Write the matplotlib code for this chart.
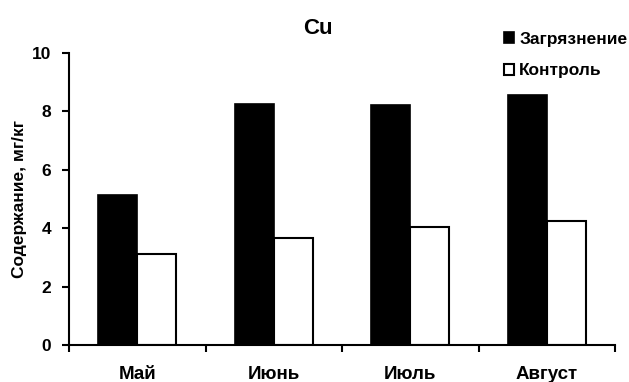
import numpy as np
import matplotlib
matplotlib.use('Agg')
import matplotlib.pyplot as plt

plt.rcParams['font.family'] = ['Liberation Sans', 'DejaVu Sans']
plt.rcParams['font.weight'] = 'bold'

months = ['Май', 'Июнь', 'Июль', 'Август']
pollution = [5.14, 8.24, 8.23, 8.55]
control = [3.11, 3.68, 4.05, 4.26]

fig = plt.figure(figsize=(6.29, 3.82), dpi=100)
ax = fig.add_axes([69/629, 1 - 345/382, (615 - 69)/629, (345 - 53)/382])

x = np.arange(len(months))
w = 1 / 3.5
ax.bar(x - w/2, pollution, w, color='black', edgecolor='black', linewidth=1.2, label='Загрязнение')
ax.bar(x + w/2, control, w, color='white', edgecolor='black', linewidth=1.5, label='Контроль')

ax.set_xlim(-0.5, len(months) - 0.5)
ax.set_ylim(0, 10)
ax.set_yticks([0, 2, 4, 6, 8, 10])
ax.set_xticks(np.arange(-0.5, len(months)), minor=False)
ax.set_xticklabels([])
ax.set_xticks(x, minor=True)
ax.set_xticklabels(months, minor=True, fontsize=13.5, fontweight='bold')
ax.tick_params(axis='x', which='minor', length=0, pad=15)
ax.tick_params(axis='x', which='major', length=5, width=1.5, direction='out')
ax.tick_params(axis='y', length=5, width=1.5, labelsize=12.5, pad=8)
for lab in ax.get_yticklabels():
    lab.set_fontweight('bold')

for s in ['top', 'right']:
    ax.spines[s].set_visible(False)
for s in ['left', 'bottom']:
    ax.spines[s].set_linewidth(1.5)

ax.set_ylabel('Содержание, мг/кг', fontsize=12.5, fontweight='bold', labelpad=3)
fig.text(318/629, 1 - 28/382, 'Cu', ha='center', va='center', fontsize=16, fontweight='bold')

fig.legend(loc='upper left', bbox_to_anchor=(504/629, 1 - 32/382), frameon=False,
           borderpad=0, borderaxespad=0,
           handlelength=0.58, handleheight=0.58, handletextpad=0.3, labelspacing=0.95,
           prop={'weight': 'bold', 'size': 12.5})

fig.savefig('out.png', dpi=100)
